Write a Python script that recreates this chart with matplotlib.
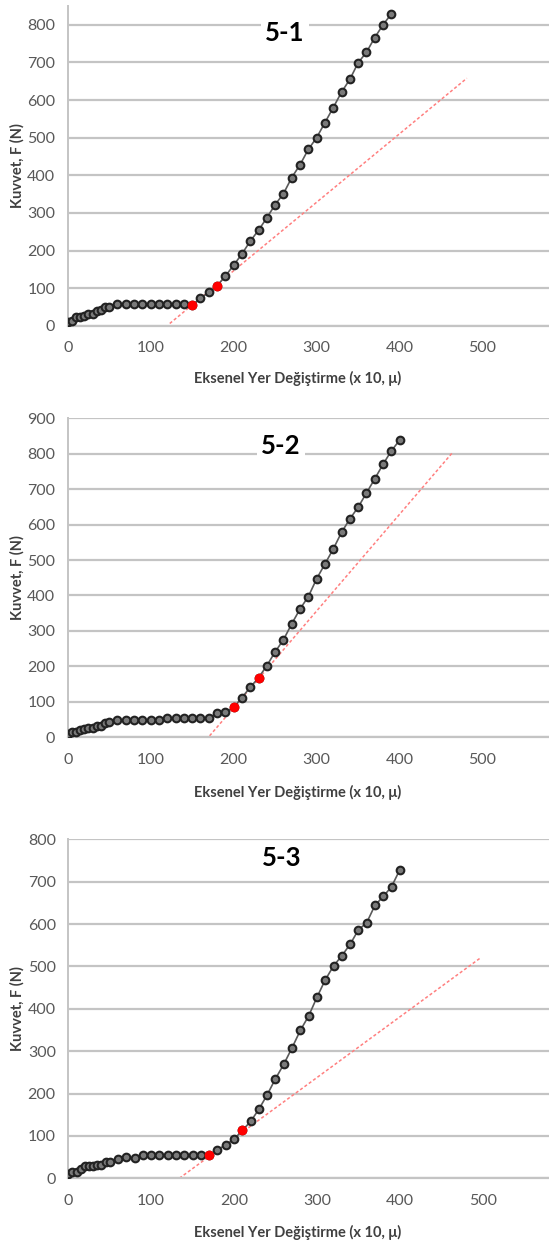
import matplotlib
matplotlib.use("Agg")
import matplotlib.pyplot as plt

plt.rcParams['font.family'] = ['Lato', 'DejaVu Sans']

# ── Data ────────────────────────────────────────────────────────────────
x_early = [0, 5, 10, 15, 20, 25, 30, 35, 40, 45, 50]

x1 = x_early + list(range(60, 400, 10))
f1 = [9, 13, 22, 22, 27, 32, 31, 39, 43, 49, 49,
      57, 57, 57, 57, 57, 57, 57, 57, 57, 54, 73, 89, 106, 132, 161,
      191, 225, 254, 287, 322, 351, 394, 428, 469, 500, 540, 580, 621,
      655, 699, 727, 766, 800, 829]
red1_x = [150, 180]
red1_f = [54, 106]
fit1_x = [123, 481]
fit1_f = [6, 658]

x2 = x_early + list(range(60, 410, 10))
f2 = [9, 16, 16, 21, 23, 25, 25, 32, 32, 40, 44,
      49, 49, 49, 49, 49, 49, 54, 54, 54, 54, 54, 54, 68, 71, 84,
      112, 141, 168, 202, 241, 275, 320, 362, 397, 447, 489, 531, 578,
      616, 649, 689, 729, 770, 808, 838]
red2_x = [200, 230]
red2_f = [84, 168]
fit2_x = [171, 464]
fit2_f = [4, 804]

x3 = x_early + list(range(60, 410, 10))
f3 = [9, 14, 15, 21, 28, 28, 28, 32, 32, 39, 39,
      45, 49, 47, 55, 55, 55, 55, 55, 55, 55, 55, 55, 67, 79, 92,
      113, 134, 163, 197, 235, 269, 308, 349, 383, 427, 468, 501, 525,
      552, 586, 603, 644, 665, 688, 728]
red3_x = [170, 210]
red3_f = [55, 113]
fit3_x = [134, 498]
fit3_f = [0, 521]

titles = ["5-1", "5-2", "5-3"]
ymaxes = [850, 900, 800]
yticks = [range(0, 801, 100), range(0, 901, 100), range(0, 801, 100)]
x_ticks = [0, 100, 200, 300, 400, 500]

xlabel = "Eksenel Yer Değiştirme (x 10, μ)"
ylabel = "Kuvvet, F (N)"

# ── Style ───────────────────────────────────────────────────────────────
GRID = "#c4c4c4"
TICK = "#595959"
LINE = "#5a5a5a"
MK_EDGE = "#222222"
MK_FACE = "#7a7a7a"
RED = "#ff0000"
FIT = "#ff7f7f"

fig = plt.figure(figsize=(5.49, 12.5), dpi=100, facecolor="white")

# left, bottom, width, height (figure fractions)
boxes = [
    (0.1233, 0.7394, 0.8767, 0.2558),
    (0.1233, 0.4102, 0.8767, 0.2552),
    (0.1244, 0.0574, 0.8756, 0.2712),
]
title_pos = [(0.451, 0.914), (0.443, 0.914), (0.445, 0.946)]
xlabel_y = [-0.164, -0.174, -0.161]

series = [
    (x1, f1, red1_x, red1_f, fit1_x, fit1_f),
    (x2, f2, red2_x, red2_f, fit2_x, fit2_f),
    (x3, f3, red3_x, red3_f, fit3_x, fit3_f),
]

for i, (xs, fs, rx, rf, fx, ff) in enumerate(series):
    ax = fig.add_axes(boxes[i])
    ax.set_xlim(0, 580)
    ax.set_ylim(0, ymaxes[i])
    ax.set_xticks(x_ticks)
    ax.set_yticks(list(yticks[i]))
    ax.grid(axis="y", color=GRID, linewidth=1.6, zorder=0)
    ax.set_axisbelow(True)
    for s in ["top", "right"]:
        ax.spines[s].set_visible(False)
    ax.spines["left"].set_color(GRID)
    ax.spines["left"].set_linewidth(1.4)
    ax.spines["bottom"].set_color(GRID)
    ax.spines["bottom"].set_linewidth(1.6)
    ax.tick_params(axis="both", length=0, colors=TICK, labelsize=11.5)
    ax.tick_params(axis="x", pad=11)
    ax.tick_params(axis="y", pad=9)

    ax.plot(fx, ff, linestyle=(0, (2, 1.5)), color=FIT, linewidth=1.1, zorder=2)
    ax.plot(xs, fs, color=LINE, linewidth=1.2, marker="o", markersize=5.5,
            markerfacecolor=MK_FACE, markeredgecolor=MK_EDGE,
            markeredgewidth=1.5, zorder=3)
    ax.plot(rx, rf, linestyle="none", marker="o", markersize=6,
            markerfacecolor=RED, markeredgecolor=RED, zorder=4)

    tx, ty = title_pos[i]
    ax.text(tx, ty, titles[i], transform=ax.transAxes, ha="center", va="center",
            fontsize=18.5, fontweight="bold", color="black",
            bbox=dict(facecolor="white", edgecolor="none", pad=3), zorder=5)

    ax.text(0.477, xlabel_y[i], xlabel, transform=ax.transAxes, ha="center",
            va="center", fontsize=10.5, fontweight="bold", color="#404040")
    ax.text(-0.105, 0.5, ylabel, transform=ax.transAxes, ha="center",
            va="center", rotation=90, fontsize=10.5, fontweight="bold",
            color="#404040")

fig.savefig("out.png", dpi=100, facecolor="white")
